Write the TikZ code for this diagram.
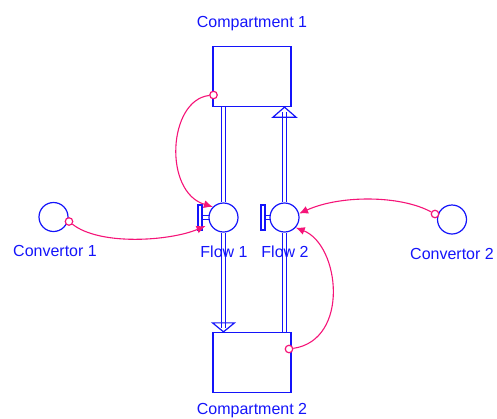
\documentclass[tikz,border=0pt]{standalone}
\usepackage{fontspec}
\setmainfont{Liberation Sans}
\usetikzlibrary{arrows.meta,calc}
\definecolor{sblue}{RGB}{20,20,250}
\definecolor{spink}{RGB}{245,20,120}
\begin{document}
\begin{tikzpicture}[x=1pt,y=-1pt,
  stock/.style={draw=sblue, line width=1.3pt, minimum width=78pt, minimum height=60pt, inner sep=0pt},
  conv/.style={draw=sblue, line width=1.2pt, circle, minimum size=29pt, inner sep=0pt},
  lbl/.style={text=sblue, font=\fontsize{16}{18}\selectfont, inner sep=0pt},
  pipe/.style={draw=sblue, line width=1.2pt},
  head/.style={draw=sblue, line width=1.2pt, fill=white},
  link/.style={draw=spink, line width=1.1pt, -{Latex[length=9pt,width=8pt]}},
  dot/.style={draw=spink, line width=1.2pt, circle, minimum size=7.5pt, inner sep=0pt, fill=white}
]
\useasboundingbox (0,0) rectangle (497,418);

% stocks
\node[stock] (c1) at (252,76.5) {};
\node[stock] (c2) at (252,362.5) {};
\node[lbl] (t1) at (252,24) {Compartment 1};
\node[lbl] (t2) at (252,411) {Compartment 2};

% flows
\node[conv] (f1) at (223.5,217.5) {};
\node[conv] (f2) at (284.5,217.5) {};
\node[lbl] (l1) at (224,252) {Flow 1};
\node[lbl] (l2) at (285,252) {Flow 2};

% convertors
\node[conv] (v1) at (53.5,217) {};
\node[conv] (v2) at (452,219.5) {};
\node[lbl] (lv1) at (55,251) {Convertor 1};
\node[lbl] (lv2) at (452,254) {Convertor 2};

% flow 1 pipe (down into compartment 2)
\coordinate (a1) at (f1 |- c2.north);
\draw[pipe] ([xshift=-2pt]f1.north) -- ([xshift=-2pt]f1.north |- c1.south);
\draw[pipe] ([xshift=2pt]f1.north) -- ([xshift=2pt]f1.north |- c1.south);
\draw[pipe] ([xshift=-2pt]f1.south) -- ($(a1)+(-2,-9)$);
\draw[pipe] ([xshift=2pt]f1.south) -- ($(a1)+(2,-9)$);
\draw[head] (a1) -- ++(-11,-9) -- ++(22,0) -- cycle;
\draw[pipe] ($(a1)+(-2,-9)$) -- ($(a1)+(-2,-4)$);
\draw[pipe] ($(a1)+(2,-9)$) -- ($(a1)+(2,-4)$);

% flow 2 pipe (up into compartment 1)
\coordinate (a2) at (f2 |- c1.south);
\draw[pipe] ([xshift=-2pt]f2.south) -- ([xshift=-2pt]f2.south |- c2.north);
\draw[pipe] ([xshift=2pt]f2.south) -- ([xshift=2pt]f2.south |- c2.north);
\draw[pipe] ([xshift=-2pt]f2.north) -- ($(a2)+(-2,10)$);
\draw[pipe] ([xshift=2pt]f2.north) -- ($(a2)+(2,10)$);
\draw[head] (a2) -- ++(-11.5,10) -- ++(23,0) -- cycle;
\draw[pipe] ($(a2)+(-2,10)$) -- ($(a2)+(-2,5)$);
\draw[pipe] ($(a2)+(2,10)$) -- ($(a2)+(2,5)$);

% valve handles
\draw[pipe] ($(f1.center)+(-25.5,-12.5)$) rectangle ($(f1.center)+(-21.5,12.5)$);
\draw[pipe] ($(f1.center)+(-21.5,-2)$) -- ($(f1.center)+(-14.3,-2)$);
\draw[pipe] ($(f1.center)+(-21.5,2)$) -- ($(f1.center)+(-14.3,2)$);
\draw[pipe] ($(f2.center)+(-23.5,-12.5)$) rectangle ($(f2.center)+(-19.5,12.5)$);
\draw[pipe] ($(f2.center)+(-19.5,-2)$) -- ($(f2.center)+(-14.3,-2)$);
\draw[pipe] ($(f2.center)+(-19.5,2)$) -- ($(f2.center)+(-14.3,2)$);

% connectors
\node[dot] (d1) at (213.5,95) {};
\node[dot] (d2) at (69,221.5) {};
\node[dot] (d3) at (435,214) {};
\node[dot] (d4) at (289,349) {};
\coordinate (e2) at ($(f1.center)+(-18,8.5)$);

\draw[link] (d1) .. controls (168,100) and (163,192) .. (f1.135);
\draw[link] (d2) .. controls (100,246) and (170,241) .. (e2);
\draw[link] (d3) .. controls (400,195) and (340,195) .. (f2.15);
\draw[link] (d4) .. controls (350,340) and (340,245) .. (f2.-42);
\end{tikzpicture}
\end{document}
